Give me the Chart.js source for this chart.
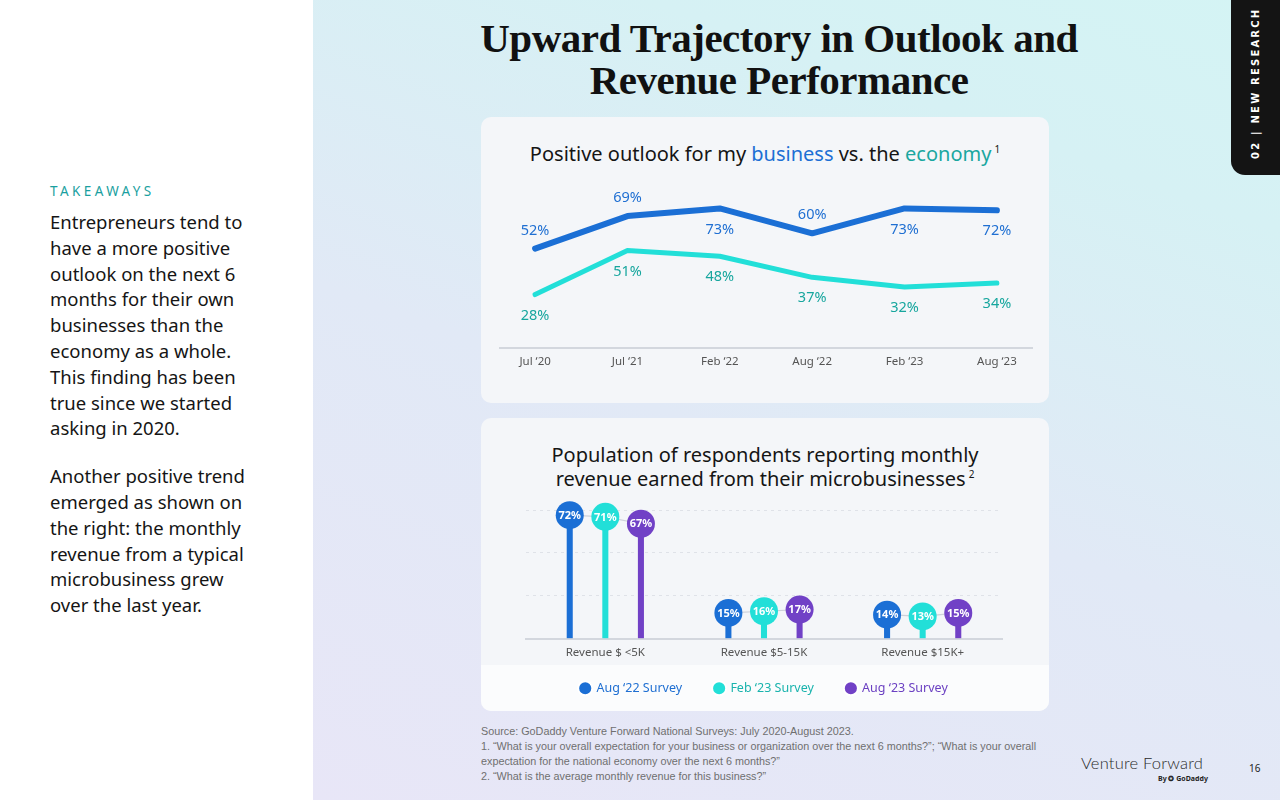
<!DOCTYPE html>
<html>
<head>
<meta charset="utf-8">
<script src="https://cdn.jsdelivr.net/npm/chart.js@4.4.0/dist/chart.umd.min.js"></script>
<style>
  body { margin: 0; width: 1280px; height: 800px; position: relative; overflow: hidden; font-family: "Noto Sans", sans-serif; color: #151515; }
  .leftPanel { position: absolute; left: 0; top: 0; width: 313px; height: 800px; background: #fff; }
  .rightPanel { position: absolute; left: 313px; top: 0; width: 967px; height: 800px;
    background: linear-gradient(20deg, #e8e6f7 0%, #e1e9f6 45%, #d6f1f4 80%, #d4f4f4 100%); }
  .takeaways { position: absolute; left: 50px; top: 182px; font-size: 13.5px; letter-spacing: 3.4px; color: #1a9fa0; }
  .body { position: absolute; left: 50px; top: 209px; width: 260px; font-size: 18.5px; line-height: 25.8px; color: #151515; white-space: nowrap; }
  .body p { margin: 0 0 22px 0; }
  .title { position: absolute; left: 379px; width: 800px; top: 17px; text-align: center; font-family: "Liberation Serif", serif; font-weight: bold; font-size: 41px; line-height: 42px; color: #111; letter-spacing: -0.5px; }
  .card { position: absolute; left: 481px; width: 568px; background: #f4f6f9; border-radius: 10px; overflow: hidden; }
  .cardTitle { position: absolute; left: 0; width: 568px; text-align: center; font-size: 20px; line-height: 24px; color: #151515; }
  .cardTitle sup { font-size: 10px; line-height: 0; vertical-align: 8px; margin-left: 3px; }
  .band { position: absolute; left: 0; bottom: 0; width: 568px; height: 46px; background: #fbfcfd; }
  canvas { position: absolute; }
  .tab { position: absolute; left: 1231px; top: 0; width: 49px; height: 175px; background: #141414; border-bottom-left-radius: 14px; }
  .tabText { position: absolute; left: 1186px; top: 82px; width: 140px; height: 14px; line-height: 14px; transform: rotate(-90deg); color: #fff; font-size: 10px; font-weight: bold; letter-spacing: 2.2px; font-family: "DejaVu Sans", sans-serif; text-align: center; white-space: nowrap; }
  .foot { position: absolute; left: 481px; top: 724px; width: 600px; font-family: "Liberation Sans", sans-serif; font-size: 10.8px; line-height: 15px; color: #6f6f6f; }
  .vf { position: absolute; left: 1081px; top: 753px; font-size: 16.5px; font-weight: 300; color: #2a2a2a; font-family: "Lato", sans-serif; letter-spacing: 0.2px; }
  .by { position: absolute; left: 1158px; top: 774px; font-size: 7px; font-weight: bold; color: #222; }
  .page { position: absolute; left: 1249px; top: 761px; font-size: 10px; color: #222; }
</style>
</head>
<body>
<div class="leftPanel"></div>
<div class="rightPanel"></div>

<div class="takeaways">TAKEAWAYS</div>
<div class="body">
  <p>Entrepreneurs tend to<br>have a more positive<br>outlook on the next 6<br>months for their own<br>businesses than the<br>economy as a whole.<br>This finding has been<br>true since we started<br>asking in 2020.</p>
  <p>Another positive trend<br>emerged as shown on<br>the right: the monthly<br>revenue from a typical<br>microbusiness grew<br>over the last year.</p>
</div>

<div class="title">Upward Trajectory in Outlook and<br>Revenue Performance</div>

<div class="card" style="top:117px;height:286px;">
  <div class="cardTitle" style="top:25px;">Positive outlook for my <span style="color:#1c6fd4">business</span> vs. the <span style="color:#1aa7a0">economy</span><sup>1</sup></div>
</div>
<canvas id="outlookChart" style="left:481px;top:178px;width:568px;height:210px;"></canvas>

<div class="card" style="top:418px;height:293px;">
  <div class="cardTitle" style="top:25px;">Population of respondents reporting monthly<br>revenue earned from their microbusinesses<sup>2</sup></div>
  <div class="band"></div>
</div>
<canvas id="revenueChart" style="left:481px;top:495px;width:568px;height:226px;"></canvas>

<div class="tab"></div>
<div class="tabText">02 | NEW RESEARCH</div>

<div class="foot">Source: GoDaddy Venture Forward National Surveys: July 2020-August 2023.<br>
1. “What is your overall expectation for your business or organization over the next 6 months?”; “What is your overall<br>expectation for the national economy over the next 6 months?”<br>
2. “What is the average monthly revenue for this business?”</div>
<div class="vf">Venture Forward</div>
<div class="by">By ✪ GoDaddy</div>
<div class="page">16</div>

<script>
// outlook chart data
const outlookLabels = ['Jul ‘20', 'Jul ‘21', 'Feb ‘22', 'Aug ‘22', 'Feb ‘23', 'Aug ‘23'];
const businessOutlook = [52, 69, 73, 60, 73, 72];
const economyOutlook = [28, 51, 48, 37, 32, 34];

// revenue chart data
const revenueBands = ['Revenue $ <5K', 'Revenue $5-15K', 'Revenue $15K+'];
const surveyNames = ['Aug ‘22 Survey', 'Feb ‘23 Survey', 'Aug ‘23 Survey'];
const aug22Survey = [72, 15, 14];
const feb23Survey = [71, 16, 13];
const aug23Survey = [67, 17, 15];

const BLUE = '#1b6fd5';
const CYAN = '#22dfd8';
const PURPLE = '#7141c6';

const pointLabels = {
  id: 'pointLabels',
  afterDatasetsDraw(chart) {
    const ctx = chart.ctx;
    chart.data.datasets.forEach((ds, i) => {
      chart.getDatasetMeta(i).data.forEach((pt, j) => {
        const below = ds.labelSide[j] === 'below';
        ctx.save();
        ctx.font = '14.5px "Noto Sans"';
        ctx.fillStyle = ds.labelColor;
        ctx.textAlign = 'center';
        ctx.textBaseline = 'middle';
        ctx.fillText(ds.data[j].y + '%', pt.x, pt.y + (below ? 21 : -18));
        ctx.restore();
      });
    });
  }
};

new Chart(document.getElementById('outlookChart'), {
  type: 'line',
  data: {
    datasets: [{
      label: 'Business',
      data: businessOutlook.map((v, i) => ({ x: i, y: v })),
      borderColor: BLUE,
      borderWidth: 6,
      labelColor: '#1f6fd2',
      labelSide: ['above', 'above', 'below', 'above', 'below', 'below']
    }, {
      label: 'Economy',
      data: economyOutlook.map((v, i) => ({ x: i, y: v })),
      borderColor: CYAN,
      borderWidth: 5,
      labelColor: '#17a69e',
      labelSide: ['below', 'below', 'below', 'below', 'below', 'below']
    }]
  },
  options: {
    responsive: false,
    animation: false,
    layout: { padding: { left: 19, right: 17, top: 17, bottom: 12 } },
    elements: { point: { radius: 0 }, line: { tension: 0, borderCapStyle: 'round', borderJoinStyle: 'round' } },
    plugins: { legend: { display: false }, tooltip: { enabled: false } },
    scales: {
      x: {
        type: 'linear',
        min: -0.38,
        max: 5.38,
        afterBuildTicks: (axis) => { axis.ticks = outlookLabels.map((_, i) => ({ value: i })); },
        ticks: { callback: (v) => outlookLabels[v], color: '#555', font: { size: 11.5, family: 'Noto Sans' }, padding: 7 },
        grid: { display: false, drawTicks: false },
        border: { display: true, color: '#d3d7de', width: 2 }
      },
      y: { display: false, min: 0, max: 80 }
    }
  },
  plugins: [pointLabels]
});

const lollipops = {
  id: 'lollipops',
  afterDatasetsDraw(chart) {
    const ctx = chart.ctx;
    const metas = chart.data.datasets.map((d, i) => chart.getDatasetMeta(i));
    ctx.save();
    ctx.strokeStyle = '#cdd1da';
    ctx.lineWidth = 1.2;
    chart.data.labels.forEach((_, j) => {
      ctx.beginPath();
      metas.forEach((m, i) => {
        const b = m.data[j];
        if (i === 0) ctx.moveTo(b.x, b.y); else ctx.lineTo(b.x, b.y);
      });
      ctx.stroke();
    });
    metas.forEach((m, i) => {
      const ds = chart.data.datasets[i];
      m.data.forEach((b, j) => {
        ctx.beginPath();
        ctx.arc(b.x, b.y, 14, 0, Math.PI * 2);
        ctx.fillStyle = ds.backgroundColor;
        ctx.fill();
        ctx.font = 'bold 11px "Noto Sans"';
        ctx.fillStyle = '#fff';
        ctx.textAlign = 'center';
        ctx.textBaseline = 'middle';
        ctx.fillText(ds.data[j] + '%', b.x, b.y + 0.5);
      });
    });
    ctx.restore();
  }
};

// legend padding also spaces the items apart, so pull the legend box back up
const legendLift = {
  id: 'legendLift',
  afterLayout(chart) {
    chart.legend.top -= 16.5;
    chart.legend.bottom -= 16.5;
  }
};

const legendTextColors = ['#1f6fd2', '#19b3ad', '#6b40c2'];

new Chart(document.getElementById('revenueChart'), {
  type: 'bar',
  data: {
    labels: revenueBands,
    datasets: [
      { label: surveyNames[0], data: aug22Survey, backgroundColor: BLUE },
      { label: surveyNames[1], data: feb23Survey, backgroundColor: CYAN },
      { label: surveyNames[2], data: aug23Survey, backgroundColor: PURPLE }
    ]
  },
  options: {
    responsive: false,
    animation: false,
    layout: { padding: { left: 45, right: 47, top: 15, bottom: 0 } },
    datasets: { bar: { categoryPercentage: 0.673, barPercentage: 0.17 } },
    plugins: {
      tooltip: { enabled: false },
      legend: {
        position: 'bottom',
        labels: {
          usePointStyle: true,
          pointStyle: 'circle',
          boxWidth: 10,
          boxHeight: 10,
          padding: 32,
          font: { size: 12.5, family: 'Noto Sans' },
          generateLabels(chart) {
            const items = Chart.defaults.plugins.legend.labels.generateLabels(chart);
            items.forEach((it, i) => {
              it.fontColor = legendTextColors[i];
              it.strokeStyle = '#ffffff';
              it.lineWidth = 2;
            });
            return items;
          }
        }
      }
    },
    scales: {
      x: {
        ticks: { color: '#555', font: { size: 11.5, family: 'Noto Sans' }, padding: 7 },
        grid: { display: false, drawTicks: false },
        border: { display: true, color: '#d3d7de', width: 2 }
      },
      y: {
        min: 0,
        max: 75,
        ticks: { display: false, stepSize: 25 },
        grid: { color: (c) => c.tick.value === 0 ? 'rgba(0,0,0,0)' : '#dfe2e8', drawTicks: false },
        border: { display: false, dash: [3, 4] }
      }
    }
  },
  plugins: [lollipops, legendLift]
});
</script>
</body>
</html>
